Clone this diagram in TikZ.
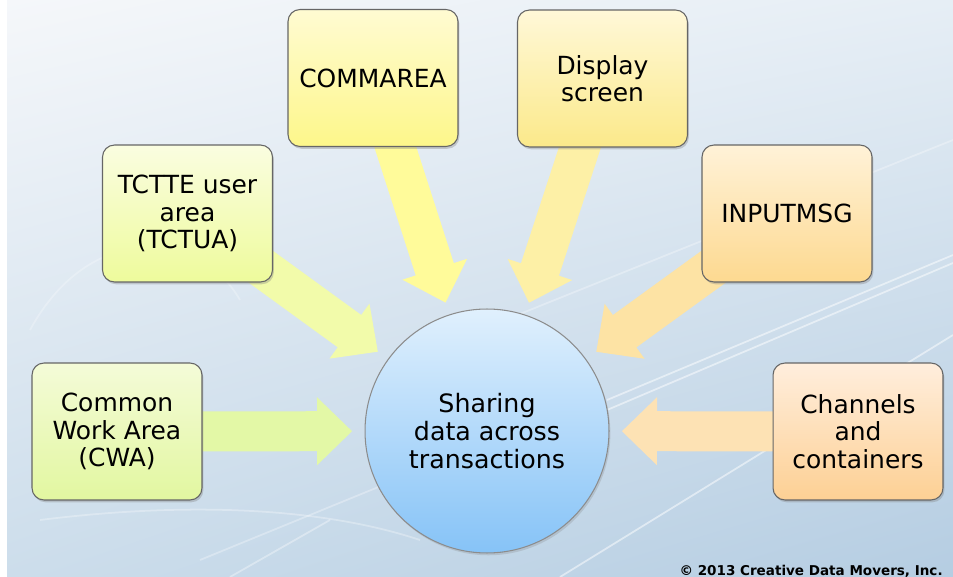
\documentclass[tikz,border=0pt]{standalone}
\usepackage{fontspec}
\setmainfont{DejaVu Sans}
\usetikzlibrary{calc, shadows, shadings}

\definecolor{skyA}{HTML}{F5F7FA}
\definecolor{skyB}{HTML}{E6EEF5}
\definecolor{skyC}{HTML}{CCDDEB}
\definecolor{skyD}{HTML}{B5CDE2}
\definecolor{HubTop}{HTML}{E0F0FD}
\definecolor{HubBot}{HTML}{86C3F7}
% box tops, box bottoms and arrow fills
\definecolor{cwaTop}{HTML}{F4FBD8}   \definecolor{cwaBot}{HTML}{E2F7A0}   \definecolor{cwaArr}{HTML}{E3F8A6}
\definecolor{tcuaTop}{HTML}{FAFDE0}  \definecolor{tcuaBot}{HTML}{EEFB9C}  \definecolor{tcuaArr}{HTML}{F2FBAA}
\definecolor{commTop}{HTML}{FFFBD2}  \definecolor{commBot}{HTML}{FDF78A}  \definecolor{commArr}{HTML}{FFFB9A}
\definecolor{dispTop}{HTML}{FFF8D8}  \definecolor{dispBot}{HTML}{FBE98A}  \definecolor{dispArr}{HTML}{FDF0A6}
\definecolor{inTop}{HTML}{FFF2D8}    \definecolor{inBot}{HTML}{FDD990}    \definecolor{inArr}{HTML}{FDE3A4}
\definecolor{chanTop}{HTML}{FFEEDD}  \definecolor{chanBot}{HTML}{FDD094}  \definecolor{chanArr}{HTML}{FDE2B4}

\pgfdeclarelayer{backdrop}
\pgfdeclarelayer{links}
\pgfsetlayers{backdrop,links,main}

\tikzset{
	topic/.style={draw=black!60, line width=0.6pt, rounded corners=0.24cm,
		minimum width=3.4cm, minimum height=2.74cm, align=center,
		font=\fontsize{14.2}{15.7}\selectfont,
		top color=#1Top, bottom color=#1Bot,
		drop shadow={shadow xshift=0.8pt, shadow yshift=-1.3pt, opacity=0.35}},
	hubnode/.style={circle, draw=black!45, line width=0.6pt, minimum size=4.88cm,
		align=center, font=\fontsize{14.4}{16}\selectfont,
		top color=HubTop, bottom color=HubBot,
		drop shadow={shadow xshift=0.8pt, shadow yshift=-1.3pt, opacity=0.25}},
	streak/.style={white, opacity=0.5, line width=1pt}
}

% block arrow from a topic box towards the hub
\newcommand{\feedarrow}[2]{%
	\coordinate (tip) at ($(hub.center)!2.7cm!(#1.center)$);
	\coordinate (base) at ($(tip)!0.7cm!(#1.center)$);
	\fill[#2] ($(#1.center)!0.4cm!90:(tip)$) -- ($(base)!0.4cm!-90:(#1.center)$)
		-- ($(base)!0.68cm!-90:(#1.center)$) -- (tip)
		-- ($(base)!0.68cm!90:(#1.center)$) -- ($(base)!0.4cm!90:(#1.center)$)
		-- ($(#1.center)!0.4cm!-90:(tip)$) -- cycle;
}

\begin{document}
\begin{tikzpicture}[x=0.02cm, y=-0.02cm]
		\useasboundingbox (0,0) rectangle (953,577);

		% backdrop
		\begin{pgfonlayer}{backdrop}
		\shade[upper left=skyA, upper right=skyB, lower left=skyC, lower right=skyD]
			(7,0) rectangle (953,577);
		\draw[streak] (560,577) -- (953,335);
		\draw[streak] (607,400) -- (953,255);
		\draw[streak] (607,410) -- (953,263);
		\draw[streak, opacity=0.3] (480,330) -- (953,140);
		\draw[streak, opacity=0.3] (200,560) -- (420,470);
		\draw[streak, opacity=0.35] (230,577) -- (330,520);
		\draw[streak, opacity=0.3] (40,520) .. controls (200,500) and (330,510) .. (420,540);
		\draw[streak, opacity=0.25] (30,330) .. controls (90,220) and (200,230) .. (240,300);
		\end{pgfonlayer}

		% hub and topics
		\node[hubnode] (hub) at (487,431) {Sharing\\data across\\transactions};
		\node[topic=cwa] (cwa) at (117,431.5) {Common\\Work Area\\(CWA)};
		\node[topic=tcua] (tcua) at (187.5,213.5) {TCTTE user\\area\\(TCTUA)};
		\node[topic=comm] (comm) at (373,78) {COMMAREA};
		\node[topic=disp] (disp) at (602.5,78.5) {Display\\screen};
		\node[topic=in] (inmsg) at (787,213.5) {INPUTMSG};
		\node[topic=chan] (chan) at (858,431.5) {Channels\\and\\containers};

		% arrows into the hub, kept under the boxes
		\begin{pgfonlayer}{links}
		\feedarrow{cwa}{cwaArr}
		\feedarrow{tcua}{tcuaArr}
		\feedarrow{comm}{commArr}
		\feedarrow{disp}{dispArr}
		\feedarrow{inmsg}{inArr}
		\feedarrow{chan}{chanArr}
		\end{pgfonlayer}

		\node[anchor=base east, inner sep=0pt, font=\bfseries\fontsize{7.7}{9}\selectfont] (note) at (943,575) {© 2013 Creative Data Movers, Inc.};
	\end{tikzpicture}
\end{document}
